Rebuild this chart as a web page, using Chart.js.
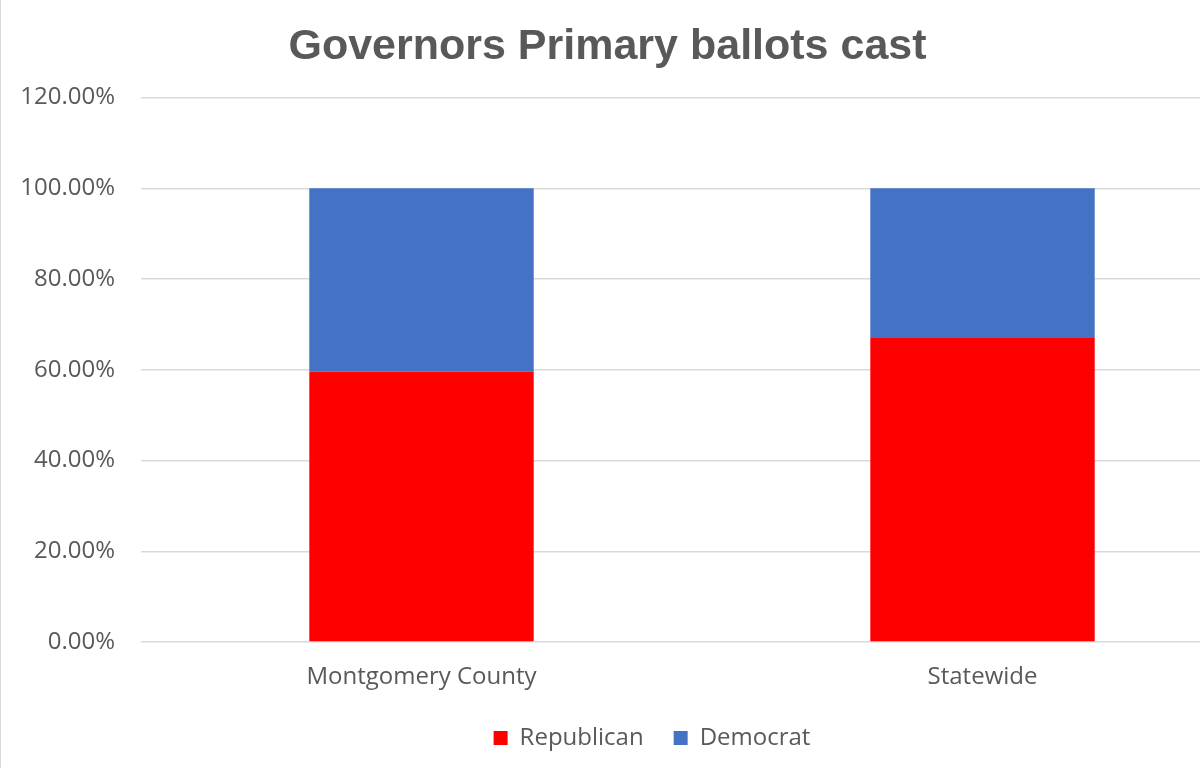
<!DOCTYPE html>
<html>
<head>
<meta charset="utf-8">
<title>Governors Primary ballots cast</title>
<script src="https://cdn.jsdelivr.net/npm/chart.js@4.4.1/dist/chart.umd.min.js"></script>
<style>
  html, body { margin: 0; padding: 0; background: #fff; overflow: hidden; }
  #wrap { width: 1300px; height: 768px; border-left: 1px solid #d9d9d9; }
</style>
</head>
<body>
<div id="wrap">
  <canvas id="myChart" width="1300" height="768"></canvas>
</div>
<script>
const categories = ['Montgomery County', 'Statewide'];
const republican = [59.6, 67.2];
const democrat = [40.4, 32.8];
const yTicks = [0, 20, 40, 60, 80, 100, 120];

const textGray = '#595959';
const gridGray = '#d9d9d9';

// the chart frame is cropped on the right, so title and legend keep
// the centres they had in the original frame
const frameShift = {
  id: 'frameShift',
  afterLayout(chart) {
    chart.titleBlock.left = 0;
    chart.titleBlock.right = 1213;
    chart.legend.left = 0;
    chart.legend.right = 1302;
  }
};

function createChart() {
  var ctx = document.getElementById('myChart').getContext('2d');
  new Chart(ctx, {
    type: 'bar',
    data: {
      labels: categories,
      datasets: [
        { label: 'Republican', data: republican, backgroundColor: '#FF0000' },
        { label: 'Democrat', data: democrat, backgroundColor: '#4472C4' }
      ]
    },
    plugins: [frameShift],
    options: {
      responsive: false,
      animation: false,
      layout: { padding: { top: 21, right: 38, bottom: 8, left: 0 } },
      datasets: { bar: { barPercentage: 0.4, categoryPercentage: 1.0 } },
      scales: {
        x: {
          stacked: true,
          grid: { display: false },
          border: { display: false },
          ticks: { color: textGray, font: { family: 'Open Sans', size: 24 }, padding: 13 },
          afterFit(scale) { scale.height = 54; }
        },
        y: {
          stacked: true,
          min: 0,
          max: 120,
          afterBuildTicks(scale) { scale.ticks = yTicks.map(v => ({ value: v })); },
          grid: { color: gridGray, lineWidth: 1.5, drawTicks: false },
          border: { display: false },
          ticks: {
            color: textGray,
            font: { family: 'Open Sans', size: 24 },
            padding: 26,
            callback: v => v.toFixed(2) + '%'
          },
          afterFit(scale) { scale.width = 140; }
        }
      },
      plugins: {
        title: {
          display: true,
          text: 'Governors Primary ballots cast',
          color: textGray,
          font: { family: 'Liberation Sans', size: 43, weight: 'bold' },
          padding: { top: 0, bottom: 25 }
        },
        legend: {
          position: 'bottom',
          labels: {
            color: textGray,
            font: { family: 'Open Sans', size: 24 },
            boxWidth: 14,
            boxHeight: 14,
            padding: 30
          }
        },
        tooltip: { enabled: false }
      }
    }
  });
}

createChart();
</script>
</body>
</html>
